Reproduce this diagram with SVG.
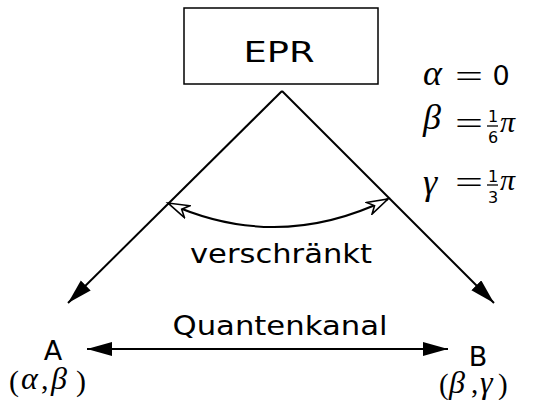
<svg xmlns="http://www.w3.org/2000/svg" width="542" height="400" viewBox="0 0 542 400">
<style>
.ln{stroke:#000;stroke-width:2;fill:none}
.t{font-family:"DejaVu Sans",sans-serif;fill:#000}
.m{font-family:"Liberation Serif","DejaVu Serif",serif;font-style:italic;fill:#000}
.u{font-family:"Liberation Serif","DejaVu Serif",serif;fill:#000}
.r{font-family:"DejaVu Sans",sans-serif;fill:#000}
</style>
<defs>
<marker id="fill" markerUnits="userSpaceOnUse" markerWidth="30" markerHeight="20" refX="25" refY="7" orient="auto-start-reverse">
<path d="M0,0 L25,7 L0,14 Z" fill="#000"/>
</marker>
<marker id="open" markerUnits="userSpaceOnUse" markerWidth="26" markerHeight="18" refX="22" refY="7.5" orient="auto-start-reverse">
<path d="M1,1 L22,7.5 L1,14 L7,7.5 Z" fill="#fff" stroke="#000" stroke-width="1.6" stroke-linejoin="miter"/>
</marker>
</defs>
<g id="epr">
<rect x="184" y="8" width="194" height="76" fill="#fff" stroke="#000" stroke-width="1.5"/>
<text class="t" x="279" y="62" font-size="28" text-anchor="middle" textLength="71" lengthAdjust="spacingAndGlyphs">EPR</text>
</g>
<g id="A">
<text class="t" x="53" y="360" font-size="27" text-anchor="middle">A</text>
<text class="u" x="9" y="391" font-size="30">(</text>
<text class="m" x="21" y="389" font-size="32">α</text>
<text class="u" x="41" y="389" font-size="30">,</text>
<text class="m" x="51" y="389" font-size="32">β</text>
<text class="u" x="76" y="391" font-size="30">)</text>
</g>
<g id="B">
<text class="t" x="478" y="366" font-size="27" text-anchor="middle">B</text>
<text class="u" x="439" y="394" font-size="29">(</text>
<text class="m" x="449" y="393" font-size="32">β</text>
<text class="u" x="471" y="393" font-size="29">,</text>
<text class="m" x="480" y="393" font-size="32">γ</text>
<text class="u" x="498" y="394" font-size="29">)</text>
</g>
<g id="angles">
<text class="m" x="423" y="85" font-size="36">α</text>
<text class="u" x="469" y="87" font-size="32" text-anchor="middle" textLength="28" lengthAdjust="spacingAndGlyphs">=</text>
<text class="r" x="501" y="85" font-size="27" text-anchor="middle">0</text>
<text class="m" x="423" y="129" font-size="36">β</text>
<text class="u" x="469" y="134" font-size="32" text-anchor="middle" textLength="28" lengthAdjust="spacingAndGlyphs">=</text>
<text class="r" x="493" y="122" font-size="16" text-anchor="middle">1</text>
<line x1="487" y1="126" x2="498" y2="126" stroke="#000" stroke-width="1.3"/>
<text class="r" x="493" y="143" font-size="16" text-anchor="middle">6</text>
<text class="m" x="500" y="132" font-size="30">π</text>
<text class="m" x="423" y="194" font-size="36">γ</text>
<text class="u" x="469" y="193" font-size="32" text-anchor="middle" textLength="28" lengthAdjust="spacingAndGlyphs">=</text>
<text class="r" x="493" y="182" font-size="16" text-anchor="middle">1</text>
<line x1="487" y1="185" x2="498" y2="185" stroke="#000" stroke-width="1.3"/>
<text class="r" x="493" y="203" font-size="16" text-anchor="middle">3</text>
<text class="m" x="500" y="190" font-size="30">π</text>
</g>
<g id="connectors">
<path class="ln" d="M282,91 L68,303" marker-end="url(#fill)"/>
<path class="ln" d="M282,91 L494,303" marker-end="url(#fill)"/>
<path class="ln" d="M87,349 L448,349" marker-start="url(#fill)" marker-end="url(#fill)"/>
<path class="ln" d="M168,203 Q278,253 388,199" marker-start="url(#open)" marker-end="url(#open)"/>
<text class="t" x="281" y="263" font-size="26" text-anchor="middle" textLength="182" lengthAdjust="spacingAndGlyphs">verschränkt</text>
<text class="t" x="280" y="335" font-size="27" text-anchor="middle" textLength="215" lengthAdjust="spacingAndGlyphs">Quantenkanal</text>
</g>
</svg>
